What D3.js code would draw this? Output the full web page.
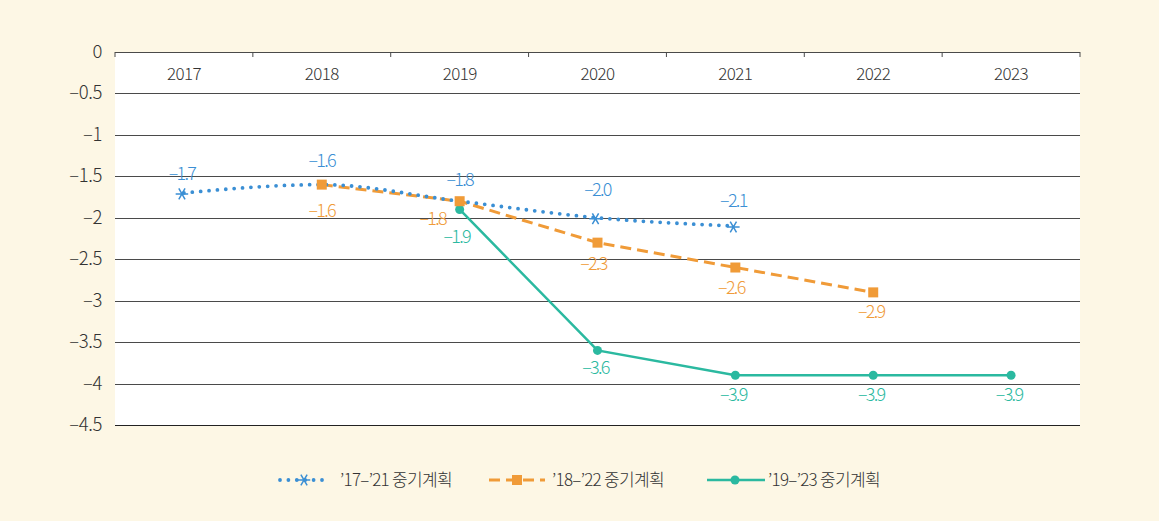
<!DOCTYPE html>
<html>
<head>
<meta charset="utf-8">
<script src="https://cdn.jsdelivr.net/npm/d3@7"></script>
<style>
  body { margin: 0; background: #fdf7e5; }
  svg { display: block; font-family: "Noto Sans CJK KR", "Noto Sans", sans-serif; font-weight: 300; }
</style>
</head>
<body>
<svg id="canvas" width="1159" height="521"></svg>
<script>
// data
let years = ["2017", "2018", "2019", "2020", "2021", "2022", "2023"];
let yTicks = [0, -0.5, -1, -1.5, -2, -2.5, -3, -3.5, -4, -4.5];

let plan17 = [["2017", -1.7], ["2018", -1.6], ["2019", -1.8], ["2020", -2.0], ["2021", -2.1]];
let plan18 = [["2018", -1.6], ["2019", -1.8], ["2020", -2.3], ["2021", -2.6], ["2022", -2.9]];
let plan19 = [["2019", -1.9], ["2020", -3.6], ["2021", -3.9], ["2022", -3.9], ["2023", -3.9]];

let legendNames = ["’17–’21 중기계획", "’18–’22 중기계획", "’19–’23 중기계획"];

let blue = "#3b8fd4";
let orange = "#f09b38";
let teal = "#2bb9a0";

let canvas = d3.select("#canvas");

let x = d3.scaleBand().domain(years).range([115, 1080]);
let y = d3.scaleLinear().domain([0, -4.5]).range([52, 425]);
let cx = (d) => x(d[0]) + x.bandwidth() / 2;

// plot area
canvas.append("rect")
  .attr("x", 115).attr("y", y(0))
  .attr("width", 965).attr("height", y(-4.5) - y(0))
  .attr("fill", "#ffffff");

// grid lines
canvas.selectAll("line.grid")
  .data(yTicks)
  .enter()
  .append("line")
  .attr("class", "grid")
  .attr("x1", 115).attr("x2", 1080)
  .attr("y1", (d) => Math.round(y(d)) + 0.5)
  .attr("y2", (d) => Math.round(y(d)) + 0.5)
  .attr("stroke", (d) => (d == -4.5 ? "#222" : "#4a4a4a"))
  .attr("stroke-width", 1.2);

// top axis ticks at band edges
canvas.selectAll("line.tick")
  .data(years.concat(["end"]))
  .enter()
  .append("line")
  .attr("x1", (d, i) => 115 + i * x.bandwidth())
  .attr("x2", (d, i) => 115 + i * x.bandwidth())
  .attr("y1", y(0)).attr("y2", y(0) + 5)
  .attr("stroke", "#4a4a4a");

canvas.selectAll("text.year")
  .data(years)
  .enter()
  .append("text")
  .attr("x", (d) => x(d) + x.bandwidth() / 2)
  .attr("y", 80)
  .attr("text-anchor", "middle")
  .attr("font-size", 17)
  .attr("letter-spacing", -0.6)
  .attr("fill", "#333")
  .text((d) => d);

canvas.selectAll("text.ytick")
  .data(yTicks)
  .enter()
  .append("text")
  .attr("x", 102)
  .attr("y", (d) => y(d) + 6)
  .attr("text-anchor", "end")
  .attr("font-size", 18.5)
  .attr("letter-spacing", -0.4)
  .attr("fill", "#333")
  .text((d) => (d == 0 ? "0" : "–" + Math.abs(d)));

let fmt = (v) => "–" + Math.abs(v).toFixed(1);

// '19-'23 solid teal
canvas.append("path")
  .datum(plan19)
  .attr("d", d3.line().x(cx).y((d) => y(d[1])))
  .attr("fill", "none")
  .attr("stroke", teal)
  .attr("stroke-width", 2.5);

// '18-'22 dashed orange
canvas.append("path")
  .datum(plan18)
  .attr("d", d3.line().x(cx).y((d) => y(d[1])))
  .attr("fill", "none")
  .attr("stroke", orange)
  .attr("stroke-width", 3)
  .attr("stroke-dasharray", "11,6");

// '17-'21 dotted blue, smooth
canvas.append("path")
  .datum(plan17)
  .attr("d", d3.line().curve(d3.curveMonotoneX).x(cx).y((d) => y(d[1])))
  .attr("fill", "none")
  .attr("stroke", blue)
  .attr("stroke-width", 3.8)
  .attr("stroke-linecap", "round")
  .attr("stroke-dasharray", "0,8.4");

// markers
canvas.selectAll("circle.p19")
  .data(plan19)
  .enter()
  .append("circle")
  .attr("cx", cx)
  .attr("cy", (d) => y(d[1]))
  .attr("r", 4.5)
  .attr("fill", teal);

canvas.selectAll("rect.p18")
  .data(plan18)
  .enter()
  .append("rect")
  .attr("x", (d) => cx(d) - 5)
  .attr("y", (d) => y(d[1]) - 5)
  .attr("width", 10).attr("height", 10)
  .attr("fill", orange);

let star = d3.symbol().type(d3.symbolAsterisk).size(110);
canvas.selectAll("path.p17")
  .data(plan17.filter((d) => d[0] != "2018" && d[0] != "2019"))
  .enter()
  .append("path")
  .attr("d", star)
  .attr("transform", (d) => "translate(" + (cx(d) - 2) + "," + (y(d[1]) + 1) + ") rotate(90)")
  .attr("fill", "none")
  .attr("stroke", blue)
  .attr("stroke-width", 1.5);

// value labels
let labelOffsets17 = { "2017": [-2, -13], "2018": [0, -18], "2019": [0, -15], "2020": [0, -22], "2021": [-2, -19] };
let labelOffsets18 = { "2018": [0, 32], "2019": [-27, 24], "2020": [-4, 27], "2021": [-4, 26], "2022": [-2, 26] };
let labelOffsets19 = { "2019": [-3, 34], "2020": [-2, 24], "2021": [-2, 26], "2022": [-2, 26], "2023": [-2, 26] };

function addLabels(data, offsets, color) {
  canvas.append("g")
    .selectAll("text")
    .data(data)
    .enter()
    .append("text")
    .attr("x", (d) => cx(d) + offsets[d[0]][0])
    .attr("y", (d) => y(d[1]) + offsets[d[0]][1])
    .attr("text-anchor", "middle")
    .attr("font-size", 18)
    .attr("letter-spacing", -1.7)
    .attr("fill", color)
    .text((d) => fmt(d[1]));
}
addLabels(plan17, labelOffsets17, blue);
addLabels(plan18, labelOffsets18, orange);
addLabels(plan19, labelOffsets19, teal);

// legend
let legend = canvas.append("g");
let legY = 480;

legend.append("line")
  .attr("x1", 280).attr("x2", 330).attr("y1", legY).attr("y2", legY)
  .attr("stroke", blue).attr("stroke-width", 3.8)
  .attr("stroke-linecap", "round").attr("stroke-dasharray", "0,8.4");
legend.append("path")
  .attr("d", star)
  .attr("transform", "translate(304," + legY + ") rotate(90)")
  .attr("fill", "none").attr("stroke", blue).attr("stroke-width", 1.5);

legend.append("line")
  .attr("x1", 489).attr("x2", 545).attr("y1", legY).attr("y2", legY)
  .attr("stroke", orange).attr("stroke-width", 3)
  .attr("stroke-dasharray", "11,6");
legend.append("rect")
  .attr("x", 512).attr("y", legY - 5).attr("width", 10).attr("height", 10)
  .attr("fill", orange);

legend.append("line")
  .attr("x1", 707).attr("x2", 765).attr("y1", legY).attr("y2", legY)
  .attr("stroke", teal).attr("stroke-width", 2.5);
legend.append("circle")
  .attr("cx", 735).attr("cy", legY).attr("r", 4.5).attr("fill", teal);

legend.selectAll("text")
  .data(legendNames)
  .enter()
  .append("text")
  .attr("x", (d, i) => [340, 552, 768][i])
  .attr("y", legY + 6)
  .attr("font-size", 17)
  .attr("letter-spacing", -0.7)
  .attr("fill", "#333")
  .text((d) => d);
</script>
</body>
</html>
